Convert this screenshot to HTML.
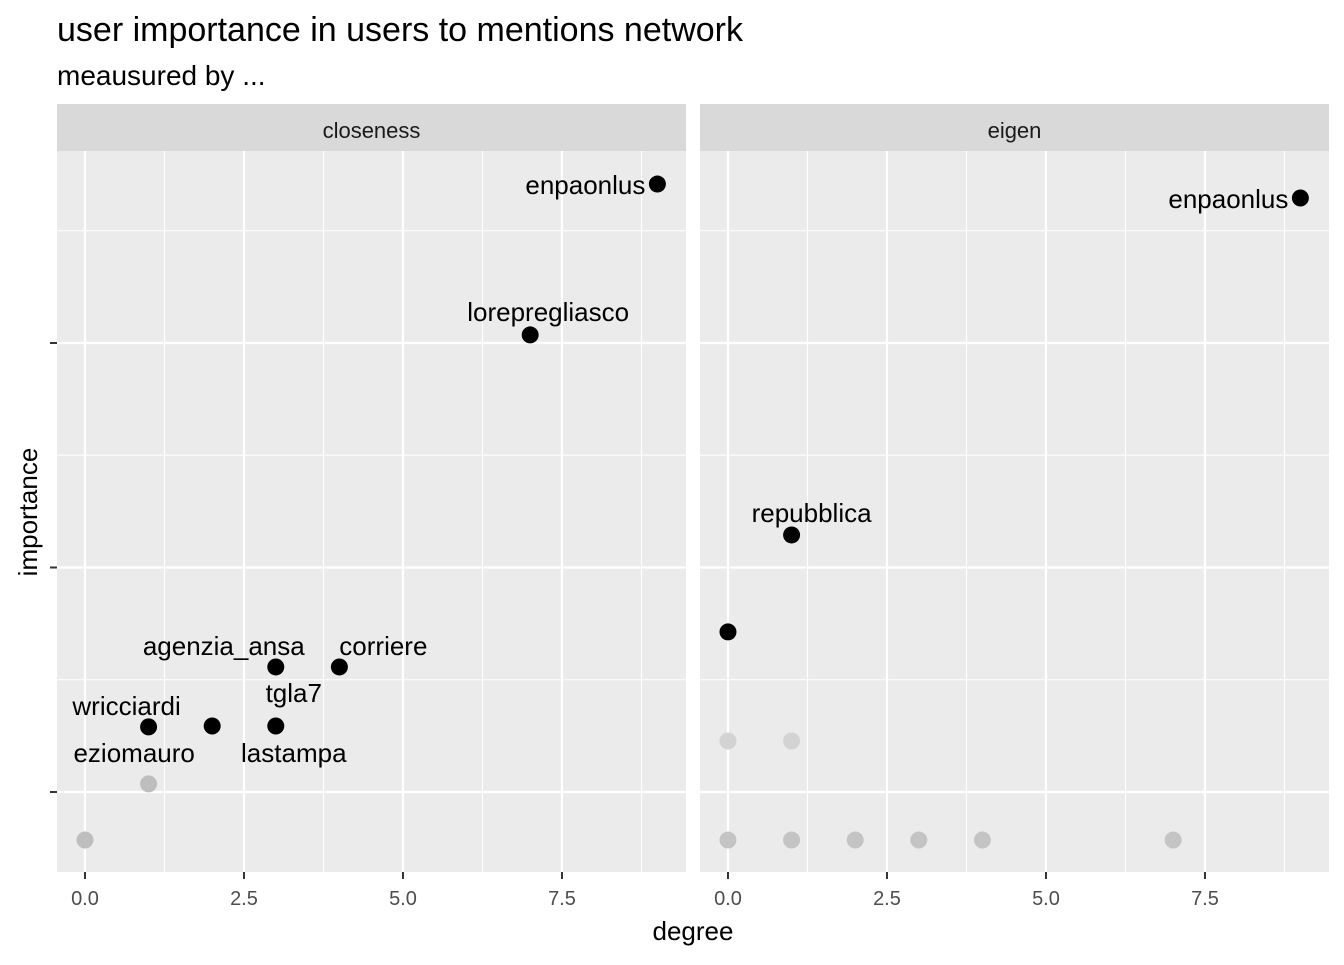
<!DOCTYPE html>
<html><head><meta charset="utf-8"><style>
body{margin:0;background:#fff;}
svg text{font-family:"Liberation Sans",Arial,sans-serif;}
</style></head><body>
<svg width="1344" height="960" viewBox="0 0 1344 960" id="chart">
<text x="57" y="41" font-size="34" fill="#000">user importance in users to mentions network</text>
<text x="57" y="85" font-size="28" fill="#000">meausured by ...</text>
<text x="37" y="512" font-size="26" fill="#000" text-anchor="middle" transform="rotate(-90 37 512)">importance</text>
<text x="693" y="940" font-size="26" fill="#000" text-anchor="middle">degree</text>
<g id="plots"></g>
</svg>
<script>
const panelNames = ["closeness", "eigen"];
const xTicks = [0, 2.5, 5, 7.5];
const xTickLabels = ["0.0", "2.5", "5.0", "7.5"];
const yTicks = [0, 1, 2];
// panel 1 (closeness)
const p1X = [9, 7, 3, 4, 1, 2, 3, 1, 0];
const p1Y = [2.708, 2.036, 0.557, 0.557, 0.29, 0.294, 0.294, 0.036, -0.214];
const p1Labels = ["enpaonlus", "lorepregliasco", "agenzia_ansa", "corriere", "wricciardi", "eziomauro", "lastampa", "", ""];
const p1Color = ["#000", "#000", "#000", "#000", "#000", "#000", "#000", "#bebebe", "#bebebe"];
// panel 2 (eigen)
const p2X = [9, 1, 0, 0, 1, 0, 1, 2, 3, 4, 7];
const p2Y = [2.646, 1.145, 0.713, 0.227, 0.227, -0.214, -0.214, -0.214, -0.214, -0.214, -0.214];
const p2Labels = ["enpaonlus", "repubblica", "", "", "", "", "", "", "", "", ""];
const p2Color = ["#000", "#000", "#000", "#d3d3d3", "#d3d3d3", "#c4c4c4", "#c4c4c4", "#c4c4c4", "#c4c4c4", "#c4c4c4", "#c4c4c4"];
const p1Extra = [{t: "tgla7", x: 3, y: 0.294}];
const p1Off = [[-12, 10, "end"], [18, -14, "middle"], [-52, -12, "middle"], [44, -12, "middle"], [-22, -12, "middle"], [-78, 36, "middle"], [18, 36, "middle"]];
const p2Off = [[-12, 10, "end"], [20, -13, "middle"]];

const NS = "http://www.w3.org/2000/svg";
const g = document.getElementById("plots");
function mk(tag, attrs, parent) { const e = document.createElementNS(NS, tag); for (const k in attrs) e.setAttribute(k, attrs[k]); (parent || g).appendChild(e); return e; }
const ptop = 151, pbot = 872, xmin = -0.44, xmax = 9.45;
const y0 = 792, yUnit = 224.5;
function sy(v) { return y0 - v * yUnit; }
const panels = [{l: 57, r: 686, xs: p1X, ys: p1Y, lab: p1Labels, col: p1Color, off: p1Off}, {l: 700, r: 1329, xs: p2X, ys: p2Y, lab: p2Labels, col: p2Color, off: p2Off}];
panels.forEach((p, i) => {
  const sx = v => p.l + (v - xmin) / (xmax - xmin) * (p.r - p.l);
  const pg = mk("g", {});
  
  
  const st = mk("rect", {x: p.l, y: 104, width: p.r - p.l, height: 47, fill: "#d9d9d9"}, pg);
  
  
  const stt = mk("text", {x: (p.l + p.r) / 2, y: 138, "font-size": 22, fill: "#1a1a1a", "text-anchor": "middle"}, pg);
  stt.textContent = panelNames[i];
  
  
  const bg = mk("rect", {x: p.l, y: ptop, width: p.r - p.l, height: pbot - ptop, fill: "#ebebeb"}, pg);
  
  
  for (let k = 0; k < yTicks.length; k++) {
    const yv = sy(yTicks[k] + 0.5);
    if (yv > ptop) { const ln = mk("line", {x1: p.l, x2: p.r, y1: yv, y2: yv, stroke: "#fff", "stroke-width": 1.1}, pg);   }
  }
  xTicks.forEach(t => { const xv = sx(t + 1.25); const ln = mk("line", {x1: xv, x2: xv, y1: ptop, y2: pbot, stroke: "#fff", "stroke-width": 1.1}, pg);   });
  yTicks.forEach(t => { const yv = sy(t); const ln = mk("line", {x1: p.l, x2: p.r, y1: yv, y2: yv, stroke: "#fff", "stroke-width": 2.2}, pg);  
    if (i === 0) { const tk = mk("line", {x1: p.l - 7, x2: p.l, y1: yv, y2: yv, stroke: "#333", "stroke-width": 2}, pg);   } });
  xTicks.forEach((t, k) => { const xv = sx(t);
    const ln = mk("line", {x1: xv, x2: xv, y1: ptop, y2: pbot, stroke: "#fff", "stroke-width": 2.2}, pg);  
    const tk = mk("line", {x1: xv, x2: xv, y1: pbot, y2: pbot + 7, stroke: "#333", "stroke-width": 2}, pg);  
    const tl = mk("text", {x: xv, y: 905, "font-size": 20, fill: "#4d4d4d", "text-anchor": "middle"}, pg); tl.textContent = xTickLabels[k];   });
  p.xs.forEach((xv, k) => {
    const c = mk("circle", {cx: sx(xv), cy: sy(p.ys[k]), r: 8.5, fill: p.col[k]}, pg);
    
    
  });
  p.xs.forEach((xv, k) => {
    if (!p.lab[k]) return;
    const o = p.off[k];
    const t = mk("text", {x: sx(xv) + o[0], y: sy(p.ys[k]) + o[1], "font-size": 26, fill: "#000", "text-anchor": o[2]}, pg);
    t.textContent = p.lab[k];
    
    
  });
  if (i === 0) p1Extra.forEach(e => {
    const t = mk("text", {x: sx(e.x) + 18, y: sy(e.y) - 24, "font-size": 26, fill: "#000", "text-anchor": "middle"}, pg);
    t.textContent = e.t;
    
    
  });
});
</script>
</body></html>
